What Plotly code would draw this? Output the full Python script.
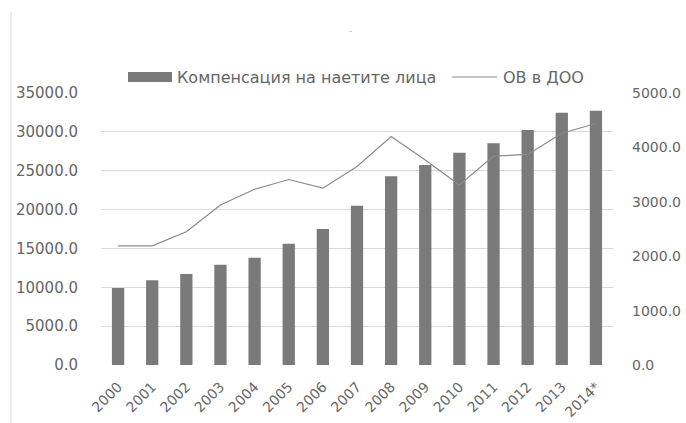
import plotly.graph_objects as go

# Years on the category axis
years = ["2000", "2001", "2002", "2003", "2004", "2005", "2006", "2007",
         "2008", "2009", "2010", "2011", "2012", "2013", "2014*"]

# Compensation of employees (left axis)
compensation = [9900, 10900, 11700, 12900, 13800, 15600, 17500, 20500,
                24300, 25750, 27300, 28550, 30250, 32450, 32700]

# Insured income in pension funds (right axis)
ov_doo = [2190, 2190, 2450, 2940, 3230, 3410, 3250, 3650,
          4200, 3770, 3310, 3840, 3870, 4260, 4440]

bar_name = "Компенсация на наетите лица"
line_name = "ОВ в ДОО"

W, H = 686, 423
L, R, T, B = 101, 613, 93, 365  # plot area in pixels

FONT = "DejaVu Sans"
TXT = "#666666"


def px(x):
    return (x - L) / (R - L)


def py(y):
    return (B - y) / (B - T)


fig = go.Figure()
fig.add_trace(go.Bar(x=years, y=compensation, name=bar_name,
                     marker=dict(color="#7a7a7a", line=dict(width=0)),
                     yaxis="y"))
fig.add_trace(go.Scatter(x=years, y=ov_doo, name=line_name, mode="lines",
                         line=dict(color="#8a8a8a", width=1.2),
                         yaxis="y2"))

shapes = [
    # frame line on the left edge
    dict(type="line", xref="paper", yref="paper",
         x0=px(11), x1=px(11), y0=py(12), y1=py(423),
         line=dict(color="#d9d9d9", width=1)),
    # legend swatches
    dict(type="rect", xref="paper", yref="paper",
         x0=px(128), x1=px(172), y0=py(82), y1=py(72),
         fillcolor="#7a7a7a", line=dict(width=0)),
    dict(type="line", xref="paper", yref="paper",
         x0=px(452), x1=px(497), y0=py(77), y1=py(77),
         line=dict(color="#8a8a8a", width=1.2)),
]

annotations = [
    dict(text=bar_name, xref="paper", yref="paper", x=px(175), y=py(77),
         xanchor="left", yanchor="middle", showarrow=False,
         font=dict(family=FONT, size=16, color=TXT)),
    dict(text=line_name, xref="paper", yref="paper", x=px(501), y=py(77),
         xanchor="left", yanchor="middle", showarrow=False,
         font=dict(family=FONT, size=16, color=TXT)),
    dict(text="-", xref="paper", yref="paper", x=px(350), y=py(31),
         xanchor="center", yanchor="middle", showarrow=False,
         font=dict(family=FONT, size=9, color="#b0b0b0")),
]

fig.update_layout(
    width=W, height=H,
    margin=dict(l=L, r=W - R, t=T, b=H - B, pad=0, autoexpand=False),
    paper_bgcolor="white", plot_bgcolor="white",
    showlegend=False,
    bargap=0.64,
    font=dict(family=FONT, size=15, color=TXT),
    xaxis=dict(type="category", tickangle=-45, showgrid=False,
               showline=False, ticks="", zeroline=False, automargin=False,
               ticklabelstandoff=10,
               tickfont=dict(size=14, color=TXT)),
    yaxis=dict(range=[0, 35000], dtick=5000, tickformat=".1f",
               showgrid=True, gridcolor="#d9d9d9", gridwidth=1,
               zeroline=False, showline=False, ticks="", automargin=False,
               ticklabelstandoff=22,
               tickfont=dict(size=15, color=TXT)),
    yaxis2=dict(range=[0, 5000], dtick=1000, tickformat=".1f",
                overlaying="y", side="right", showgrid=False,
                zeroline=False, showline=False, ticks="", automargin=False,
                ticklabelstandoff=18,
                tickfont=dict(size=14, color=TXT)),
    shapes=shapes,
    annotations=annotations,
)

fig.write_html("out.html")
